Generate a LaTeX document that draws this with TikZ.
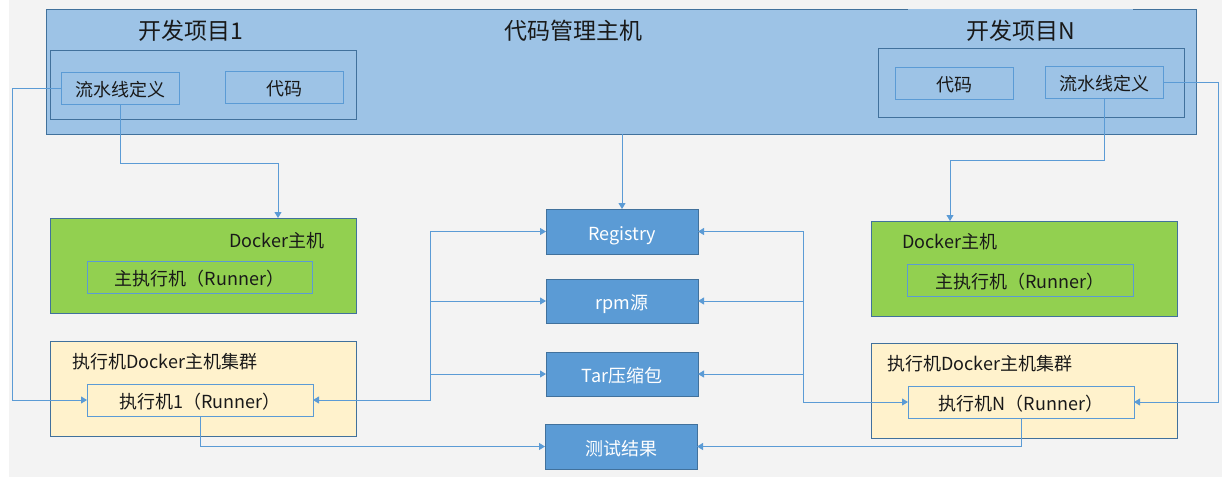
\documentclass[tikz,border=0pt]{standalone}
\usepackage{fontspec}
\setmainfont{Noto Sans CJK SC}
\usetikzlibrary{positioning,arrows.meta}

\definecolor{bggray}{HTML}{F3F3F3}
\definecolor{hostblue}{HTML}{9DC3E6}
\definecolor{edgeblue}{HTML}{41719C}
\definecolor{lineblue}{HTML}{5B9BD5}
\definecolor{midblue}{HTML}{5B9BD5}
\definecolor{dockgreen}{HTML}{92D050}
\definecolor{cream}{HTML}{FFF2CC}

\tikzset{
  outline/.style={draw=edgeblue, line width=1pt, inner sep=0pt, outer sep=0pt},
  boxtext/.style={font=\fontsize{18}{21}\selectfont, text=black!90},
  bigtitle/.style={font=\fontsize{23}{26}\selectfont, text=black!90},
  itembox/.style={boxtext, draw=lineblue, line width=0.9pt, inner sep=0pt, outer sep=0pt,
    minimum width=118pt, minimum height=32pt, text height=17pt, text depth=0pt},
  storebox/.style={outline, fill=midblue, text=white, font=\fontsize{18}{21}\selectfont,
    minimum width=152pt, minimum height=45pt, text height=17pt, text depth=0pt},
  link/.style={draw=lineblue, line width=0.9pt, ->}
}

\begin{document}
\begin{tikzpicture}[x=1pt, y=-1pt, >={Triangle[width=7pt,length=6pt]}]
  % page and background
  \useasboundingbox (0,0) rectangle (1226,477);
  \fill[bggray] (9,0) rectangle (1222,477);

  % code management host
  \node[outline, fill=hostblue, minimum width=1150pt, minimum height=125pt] (host) at (621,71.5) {};
  \node[bigtitle] (hosttitle) at (573,31) {代码管理主机};

  % project 1
  \node[outline, fill=hostblue, minimum width=306pt, minimum height=69pt] (projL) at (203,84.5) {};
  \node[bigtitle] (projLtitle) at (191,31) {开发项目1};
  \node[itembox] (pipeL) at (120,88) {流水线定义};
  \node[itembox] (codeL) at (284,87) {代码};

  % project N
  \node[bigtitle, fill=hostblue, inner sep=0pt, minimum width=225pt, minimum height=44pt] (projRtitle) at (1020.5,30.5) {开发项目N};
  \node[outline, fill=hostblue, minimum width=306pt, minimum height=69pt] (projR) at (1031,82.5) {};
  \node[itembox] (codeR) at (954,83) {代码};
  \node[itembox] (pipeR) at (1104,82) {流水线定义};

  % docker hosts
  \node[outline, fill=dockgreen, minimum width=306pt, minimum height=95pt] (dockL) at (203,265.5) {};
  \node[boxtext] (dockLtitle) at (277,241) {Docker主机};
  \node[itembox, minimum width=225pt] (mainL) at (199.5,277) {主执行机（Runner）};

  \node[outline, fill=dockgreen, minimum width=306pt, minimum height=95pt] (dockR) at (1024,268.5) {};
  \node[boxtext] (dockRtitle) at (950,242) {Docker主机};
  \node[itembox, minimum width=226pt] (mainR) at (1020,280) {主执行机（Runner）};

  % runner clusters
  \node[outline, fill=cream, minimum width=306pt, minimum height=95pt] (clusL) at (203,388.5) {};
  \node[boxtext, anchor=west, inner sep=0pt] (clusLtitle) at (72,362) {执行机Docker主机集群};
  \node[itembox, minimum width=226pt] (r1) at (200,400) {执行机1（Runner）};

  \node[outline, fill=cream, minimum width=306pt, minimum height=95pt] (clusR) at (1024,390.5) {};
  \node[boxtext, anchor=west, inner sep=0pt] (clusRtitle) at (887,364) {执行机Docker主机集群};
  \node[itembox, minimum width=226pt] (rN) at (1021,402) {执行机N（Runner）};

  % shared stores
  \node[storebox] (reg) at (622,231.5) {Registry};
  \node[storebox, minimum height=44pt] (rpm) at (622,301) {rpm源};
  \node[storebox, minimum height=44pt] (tar) at (622,374) {Tar压缩包};
  \node[storebox] (test) at (621,446.5) {测试结果};

  % connectors
  \coordinate (dockLin) at (278,218);
  \coordinate (dockRin) at (950,221);
  \coordinate (lbus) at (430,0);
  \coordinate (rbus) at (803,0);

  \draw[link] (pipeL.west) -- ++(-49,0) |- (r1.west);
  \draw[link] (pipeL.south) -- ++(0,59) -| (dockLin);
  \draw[link] (pipeR.south) -- ++(0,62) -| (dockRin);
  \draw[link] (pipeR.east) -- ++(55,0) |- (rN.east);
  \draw[link] (host.south -| reg.north) -- (reg.north);

  \draw[link, <->] (r1.east) -- (r1.east -| lbus) |- (reg.west);
  \draw[link, <->] (rN.west) -- (rN.west -| rbus) |- (reg.east);
  \foreach \dst in {rpm, tar} {
    \draw[link] (r1.east -| lbus) |- (\dst.west);
    \draw[link] (rN.west -| rbus) |- (\dst.east);
  }
  \draw[link] (r1.south) |- (test.west);
  \draw[link] (rN.south) |- (test.east);
\end{tikzpicture}
\end{document}
